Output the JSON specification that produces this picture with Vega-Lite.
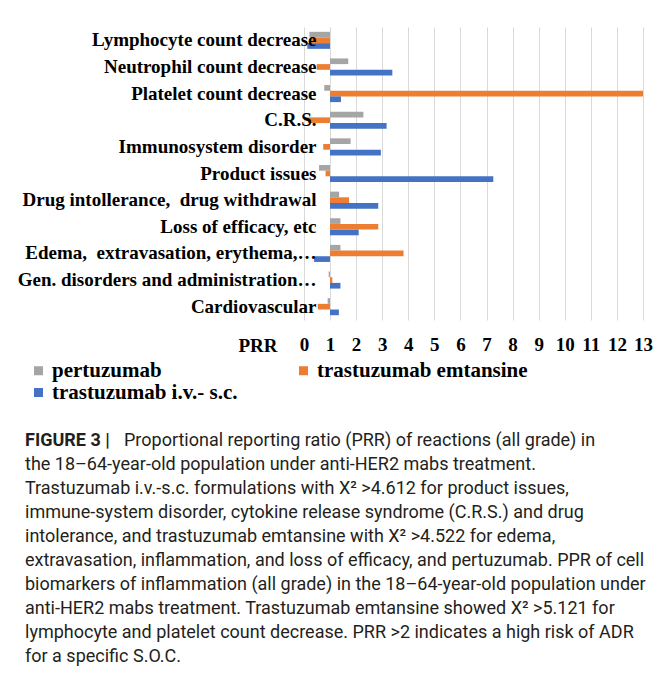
{
  "$schema": "https://vega.github.io/schema/vega-lite/v6.json",
  "padding": {"left": 17, "top": 27, "right": 0, "bottom": 0},
  "background": "white",
  "spacing": 74,
  "config": {"view": {"stroke": null}},
  "vconcat": [
    {
      "width": 626,
      "height": 293,
      "data": {"values": [
        {"cat": "Lymphocyte count decrease", "drug": "pertuzumab", "prr": 0.21},
        {"cat": "Lymphocyte count decrease", "drug": "trastuzumab emtansine", "prr": 0.3},
        {"cat": "Lymphocyte count decrease", "drug": "trastuzumab i.v.- s.c.", "prr": 0.13},
        {"cat": "Neutrophil count decrease", "drug": "pertuzumab", "prr": 1.7},
        {"cat": "Neutrophil count decrease", "drug": "trastuzumab emtansine", "prr": 0.49},
        {"cat": "Neutrophil count decrease", "drug": "trastuzumab i.v.- s.c.", "prr": 3.39},
        {"cat": "Platelet count decrease", "drug": "pertuzumab", "prr": 0.78},
        {"cat": "Platelet count decrease", "drug": "trastuzumab emtansine", "prr": 13.0},
        {"cat": "Platelet count decrease", "drug": "trastuzumab i.v.- s.c.", "prr": 1.42},
        {"cat": "C.R.S.", "drug": "pertuzumab", "prr": 2.28},
        {"cat": "C.R.S.", "drug": "trastuzumab emtansine", "prr": 0.15},
        {"cat": "C.R.S.", "drug": "trastuzumab i.v.- s.c.", "prr": 3.17},
        {"cat": "Immunosystem disorder", "drug": "pertuzumab", "prr": 1.79},
        {"cat": "Immunosystem disorder", "drug": "trastuzumab emtansine", "prr": 0.74},
        {"cat": "Immunosystem disorder", "drug": "trastuzumab i.v.- s.c.", "prr": 2.95},
        {"cat": "Product issues", "drug": "pertuzumab", "prr": 0.58},
        {"cat": "Product issues", "drug": "trastuzumab emtansine", "prr": 0.83},
        {"cat": "Product issues", "drug": "trastuzumab i.v.- s.c.", "prr": 7.26},
        {"cat": "Drug intollerance, \u00a0drug withdrawal", "drug": "pertuzumab", "prr": 1.35},
        {"cat": "Drug intollerance, \u00a0drug withdrawal", "drug": "trastuzumab emtansine", "prr": 1.73},
        {"cat": "Drug intollerance, \u00a0drug withdrawal", "drug": "trastuzumab i.v.- s.c.", "prr": 2.85},
        {"cat": "Loss of efficacy, etc", "drug": "pertuzumab", "prr": 1.4},
        {"cat": "Loss of efficacy, etc", "drug": "trastuzumab emtansine", "prr": 2.85},
        {"cat": "Loss of efficacy, etc", "drug": "trastuzumab i.v.- s.c.", "prr": 2.1},
        {"cat": "Edema, \u00a0extravasation, erythema,…", "drug": "pertuzumab", "prr": 1.4},
        {"cat": "Edema, \u00a0extravasation, erythema,…", "drug": "trastuzumab emtansine", "prr": 3.82},
        {"cat": "Edema, \u00a0extravasation, erythema,…", "drug": "trastuzumab i.v.- s.c.", "prr": 0.39},
        {"cat": "Gen. disorders and administration…", "drug": "pertuzumab", "prr": 0.95},
        {"cat": "Gen. disorders and administration…", "drug": "trastuzumab emtansine", "prr": 1.09},
        {"cat": "Gen. disorders and administration…", "drug": "trastuzumab i.v.- s.c.", "prr": 1.4},
        {"cat": "Cardiovascular", "drug": "pertuzumab", "prr": 0.91},
        {"cat": "Cardiovascular", "drug": "trastuzumab emtansine", "prr": 0.53},
        {"cat": "Cardiovascular", "drug": "trastuzumab i.v.- s.c.", "prr": 1.34}
      ]},
      "mark": {"type": "bar"},
      "encoding": {
        "y": {
          "field": "cat", "type": "nominal", "sort": null,
          "scale": {"paddingInner": 0.36, "paddingOuter": 0.18},
          "axis": {
            "title": null, "offset": -313, "domain": false, "ticks": false,
            "labelPadding": 14, "labelLimit": 0, "zindex": 1,
            "labelFont": "Liberation Serif", "labelFontWeight": "bold",
            "labelFontSize": 19, "labelColor": "#000000"
          }
        },
        "yOffset": {"field": "drug", "type": "nominal", "sort": "ascending", "scale": {"paddingInner": 0, "paddingOuter": 0}},
        "x": {
          "field": "prr", "type": "quantitative",
          "scale": {"domain": [-11, 13], "nice": false, "zero": false},
          "axis": {
            "title": "PRR", "values": [0,1,2,3,4,5,6,7,8,9,10,11,12,13],
            "labelOverlap": false, "labelFlush": false,
            "domain": false, "ticks": false, "grid": true, "gridColor": "#D9D9D9", "gridWidth": 1,
            "labelPadding": 15, "labelFont": "Liberation Serif", "labelFontWeight": "bold",
            "labelFontSize": 19, "labelColor": "#000000",
            "titleFont": "Liberation Serif", "titleFontWeight": "bold", "titleFontSize": 19,
            "titleColor": "#000000", "titleX": 260, "titleY": 25, "titleAlign": "right",
            "titleBaseline": "middle", "titleAnchor": null
          }
        },
        "x2": {"datum": 1},
        "color": {
          "field": "drug", "type": "nominal",
          "scale": {"domain": ["pertuzumab", "trastuzumab emtansine", "trastuzumab i.v.- s.c."], "range": ["#A5A5A5", "#ED7D31", "#4472C4"]},
          "legend": {
            "title": null, "orient": "none", "legendX": 11, "legendY": 333, "padding": 0,
            "direction": "horizontal", "columns": 2, "columnPadding": 55, "rowPadding": 0,
            "symbolType": "square", "symbolSize": 81, "symbolStrokeWidth": 0,
            "labelFont": "Liberation Serif", "labelFontWeight": "bold", "labelFontSize": 21,
            "labelColor": "#000000", "labelOffset": 3, "labelLimit": 0
          }
        }
      }
    },
    {
      "width": 626,
      "height": 240,
      "data": {"values": [
        {"line": 1, "part": "label", "text": "FIGURE 3 |"},
        {"line": 1, "part": "first", "text": "Proportional reporting ratio (PRR) of reactions (all grade) in"},
        {"line": 2, "part": "body", "text": "the 18–64-year-old population under anti-HER2 mabs treatment."},
        {"line": 3, "part": "body", "text": "Trastuzumab i.v.-s.c. formulations with X² >4.612 for product issues,"},
        {"line": 4, "part": "body", "text": "immune-system disorder, cytokine release syndrome (C.R.S.) and drug"},
        {"line": 5, "part": "body", "text": "intolerance, and trastuzumab emtansine with X² >4.522 for edema,"},
        {"line": 6, "part": "body", "text": "extravasation, inflammation, and loss of efficacy, and pertuzumab. PPR of cell"},
        {"line": 7, "part": "body", "text": "biomarkers of inflammation (all grade) in the 18–64-year-old population under"},
        {"line": 8, "part": "body", "text": "anti-HER2 mabs treatment. Trastuzumab emtansine showed X² >5.121 for"},
        {"line": 9, "part": "body", "text": "lymphocyte and platelet count decrease. PRR >2 indicates a high risk of ADR"},
        {"line": 10, "part": "body", "text": "for a specific S.O.C."}
      ]},
      "encoding": {
        "y": {"field": "line", "type": "ordinal", "axis": null, "scale": {"paddingInner": 0, "paddingOuter": 0}},
        "x": {"datum": 0, "type": "quantitative", "scale": {"domain": [0, 1]}, "axis": null},
        "text": {"field": "text"}
      },
      "layer": [
        {"transform": [{"filter": "datum.part === 'label'"}],
         "mark": {"type": "text", "align": "left", "baseline": "middle", "dx": 8, "font": "Roboto", "fontWeight": "bold", "fontSize": 18, "color": "#231F20"}},
        {"transform": [{"filter": "datum.part === 'first'"}],
         "mark": {"type": "text", "align": "left", "baseline": "middle", "dx": 107, "font": "Roboto", "fontSize": 18, "color": "#231F20"}},
        {"transform": [{"filter": "datum.part === 'body'"}],
         "mark": {"type": "text", "align": "left", "baseline": "middle", "dx": 8, "font": "Roboto", "fontSize": 18, "color": "#231F20"}}
      ]
    }
  ]
}
